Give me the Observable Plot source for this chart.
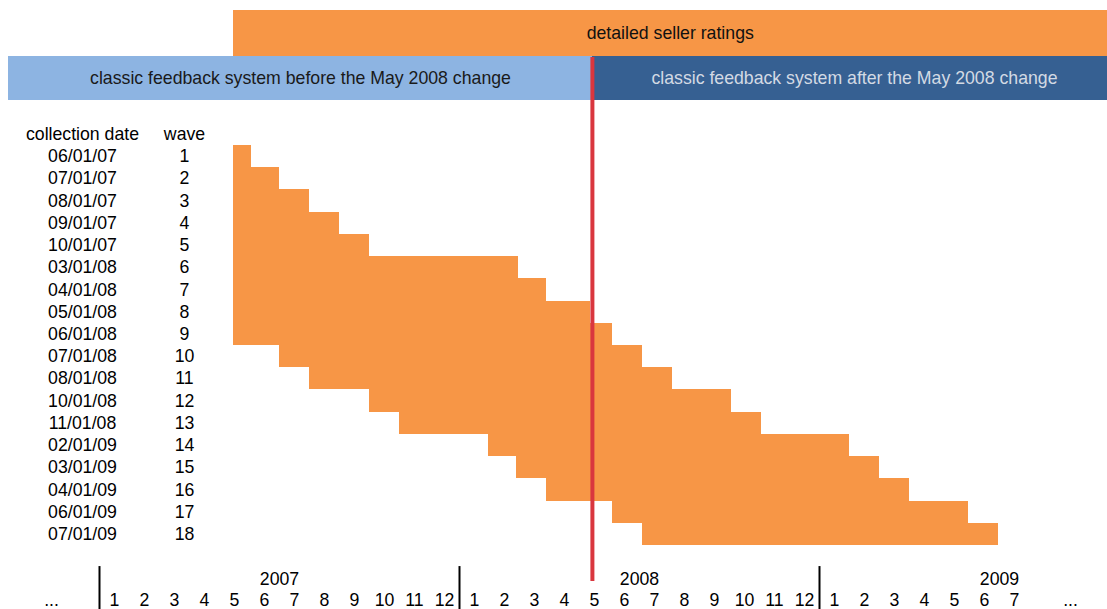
<!DOCTYPE html>
<html><head><meta charset="utf-8">
<script src="https://cdn.jsdelivr.net/npm/d3@7"></script>
<script src="https://cdn.jsdelivr.net/npm/@observablehq/plot@0.6"></script>
<style>html,body{margin:0;padding:0;background:#fff;color:#000;} svg{display:block}</style>
</head><body><div id="chart"></div>
<script>
// ---- data (months counted from 1 Jan 2007 = 0) ----
const waves = [1,2,3,4,5,6,7,8,9,10,11,12,13,14,15,16,17,18];
const collectionDates = ["06/01/07","07/01/07","08/01/07","09/01/07","10/01/07","03/01/08","04/01/08","05/01/08","06/01/08","07/01/08","08/01/08","10/01/08","11/01/08","02/01/09","03/01/09","04/01/09","06/01/09","07/01/09"];
const startMonth = [4.45,4.45,4.45,4.45,4.45,4.45,4.45,4.45,4.45,6,7,9,10,12.95,13.9,14.9,17.1,18.1];
const endMonth   = [5.05,6,7,8,9,13.95,14.9,16.35,17.1,18.1,19.1,21.05,22.05,25,26,27,28.95,29.95];
const years = [2007, 2008, 2009];
const monthsShown = [12, 12, 7];
const monthLabels = ["1","2","3","4","5","6","7","8","9","10","11","12"];
const dsrStart = 4.45;          // detailed seller ratings introduced
const classicStart = -3.03;     // left edge of the classic feedback band
const feedbackChange = 16.43;   // May 2008 change
const bandLabels = ["detailed seller ratings","classic feedback system before the May 2008 change","classic feedback system after the May 2008 change"];
const headers = ["collection date", "wave"];

// ---- build tables ----
const rows = waves.map((w, i) => ({wave: w, date: collectionDates[i], start: startMonth[i], end: endMonth[i]}));
const monthTicks = years.flatMap((yr, yi) => d3.range(monthsShown[yi]).map(k => ({x: yi * 12 + k + 0.5, label: monthLabels[k]})));

const X0 = -3.3, X1 = 33.6;
const Y0 = -6.025, Y1 = 21.382;
const orange = "#F79646", lightBlue = "#8DB4E2", darkBlue = "#366092", red = "#D9363E";
const font = "'Liberation Sans', Arial, Helvetica, sans-serif";
const fs = 17.7;

const chart = Plot.plot({
  width: 1107, height: 609, margin: 0,
  x: {domain: [X0, X1], axis: null},
  y: {domain: [Y0, Y1], reverse: true, axis: null},
  style: {fontFamily: font, fontSize: "17.7px", background: "#fff", color: "#000"},
  marks: [
    // top bands
    Plot.rect([bandLabels[0]], {x1: dsrStart, x2: X1, y1: -5.575, y2: -3.505, fill: orange, shapeRendering: "crispEdges"}),
    Plot.rect([bandLabels[1]], {x1: classicStart, x2: feedbackChange, y1: -3.505, y2: -1.525, fill: lightBlue, shapeRendering: "crispEdges"}),
    Plot.rect([bandLabels[2]], {x1: feedbackChange, x2: X1, y1: -3.505, y2: -1.525, fill: darkBlue, shapeRendering: "crispEdges"}),
    Plot.text([bandLabels[0]], {x: (dsrStart + X1) / 2, y: -4.54, text: d => d, fontSize: fs, fill: "#111"}),
    Plot.text([bandLabels[1]], {x: (classicStart + feedbackChange) / 2, y: -2.515, text: d => d, fontSize: fs, fill: "#1a1a1a"}),
    Plot.text([bandLabels[2]], {x: (feedbackChange + X1) / 2 + 0.15, y: -2.515, text: d => d, fontSize: fs, fill: "#d3dae4"}),
    // wave bars
    Plot.rect(rows, {x1: "start", x2: "end", y1: d => d.wave - 0.5, y2: d => d.wave + 0.5, fill: orange, shapeRendering: "crispEdges"}),
    // May 2008 change line
    Plot.ruleX([feedbackChange], {y1: -3.46, y2: 20.12, stroke: red, strokeWidth: 4}),
    // left table
    Plot.text([headers[0]], {y: 0, frameAnchor: "left", dx: 82, textAnchor: "middle", text: d => d, fontSize: fs}),
    Plot.text([headers[1]], {y: 0, frameAnchor: "left", dx: 184, textAnchor: "middle", text: d => d, fontSize: fs}),
    Plot.text(rows, {y: "wave", frameAnchor: "left", dx: 82, textAnchor: "middle", text: "date", fontSize: fs}),
    Plot.text(rows, {y: "wave", frameAnchor: "left", dx: 184, textAnchor: "middle", text: d => String(d.wave), fontSize: fs}),
    // time axis
    Plot.ruleX(years, {x: yr => (yr - 2007) * 12, y1: 19.45, y2: Y1, stroke: "#000", strokeWidth: 2}),
    Plot.text(years, {x: yr => (yr - 2007) * 12 + 6, y: 20.03, text: d => String(d), fontSize: fs}),
    Plot.text(monthTicks, {x: "x", y: 20.97, text: "label", fontSize: fs}),
    Plot.text(["..."], {y: 20.97, frameAnchor: "left", dx: 51, textAnchor: "middle", text: d => d, fontSize: fs}),
    Plot.text(["..."], {y: 20.97, frameAnchor: "right", dx: -37, textAnchor: "middle", text: d => d, fontSize: fs})
  ]
});
document.getElementById("chart").appendChild(chart);
</script>
</body></html>
